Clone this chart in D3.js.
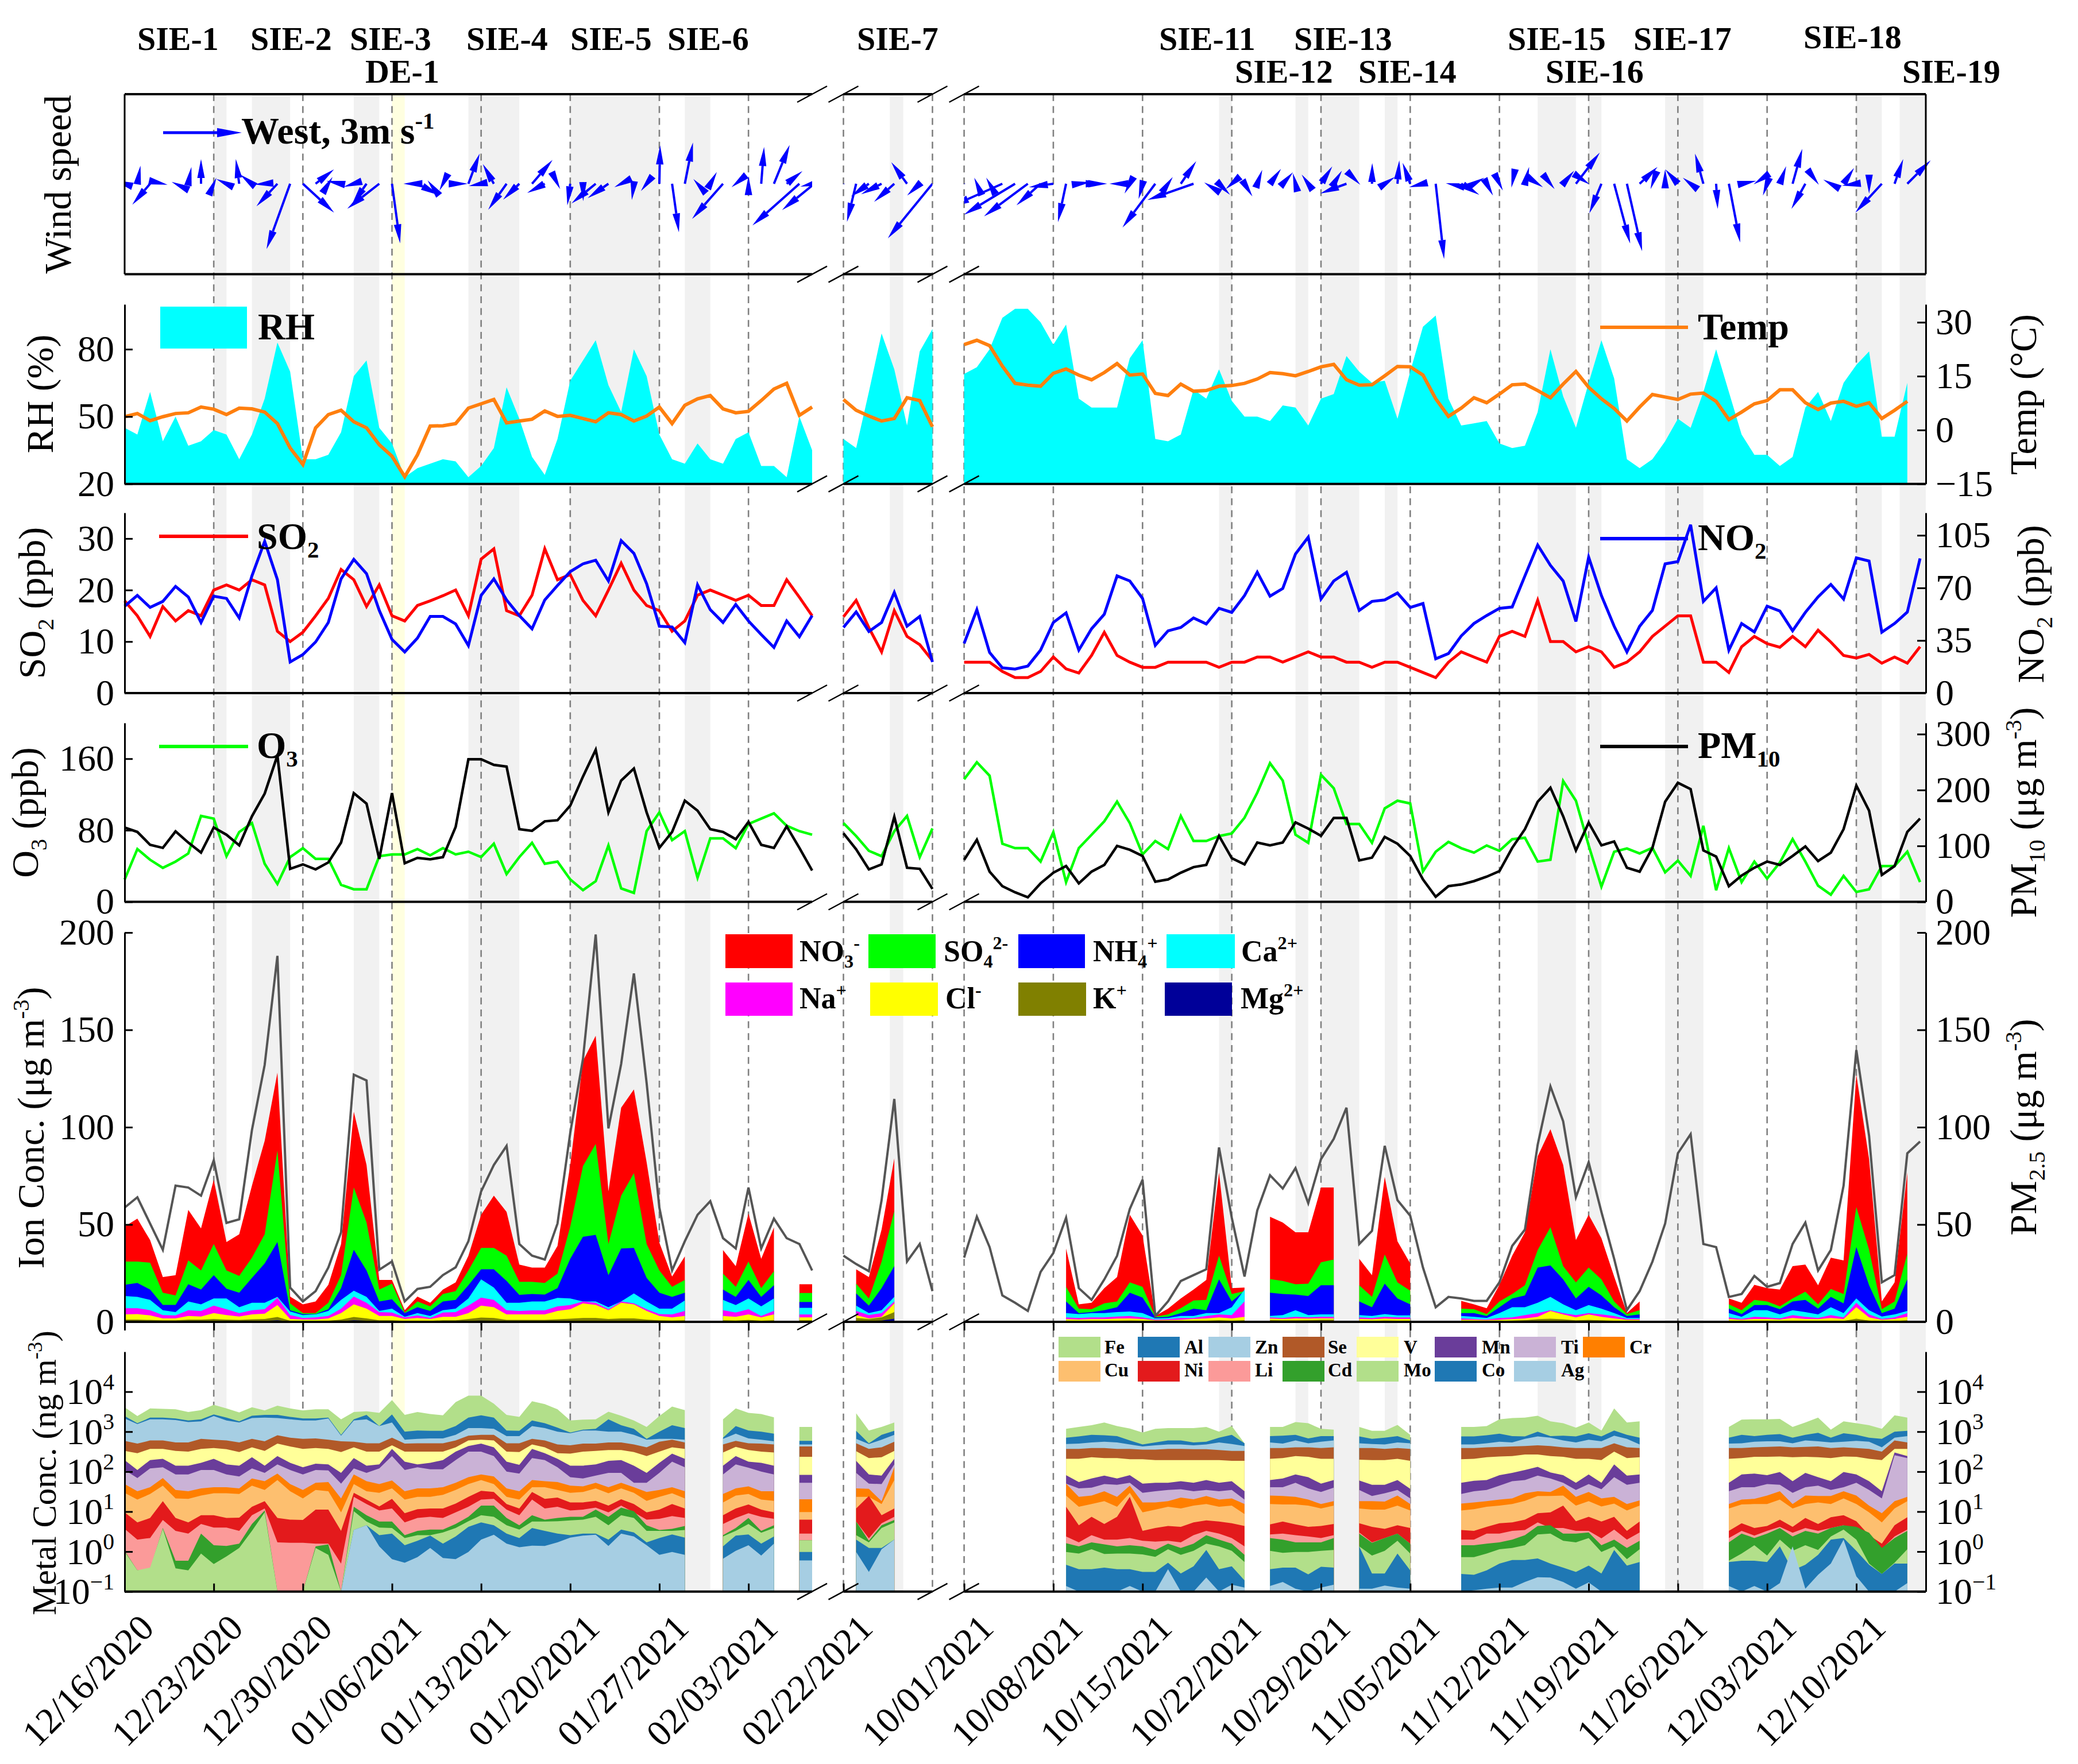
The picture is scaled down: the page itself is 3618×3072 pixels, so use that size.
<!DOCTYPE html>
<html>
<head>
<meta charset="utf-8">
<title>Wind, gases, ions and metals</title>
<script src="https://d3js.org/d3.v7.min.js"></script>
<style>
body{margin:0;background:#fff}
text{font-family:"Liberation Serif","Times New Roman",serif}
</style>
</head>
<body>
<script>
// sampled days, counted from 12/16/2020
var segDays = [[0,54],[68,75],[289,364]];
var windRuns = [[0,55],[68,75],[289,363]];
var obsRuns = [[0,44],[47,51],[53,54],[69,72],[297,311],[313,318],[320,324],[328,342],[349,363]];
var tickDays = [0,7,14,21,28,35,42,49,68,289,296,303,310,317,324,331,338,345,352,359];
var tickLabels = ["12/16/2020","12/23/2020","12/30/2020","01/06/2021","01/13/2021","01/20/2021","01/27/2021","02/03/2021","02/22/2021","10/01/2021","10/08/2021","10/15/2021","10/22/2021","10/29/2021","11/05/2021","11/12/2021","11/19/2021","11/26/2021","12/03/2021","12/10/2021"];
var dashDays = [7,14,21,28,35,42,49,68,75,289,296,303,310,317,324,331,338,345,352,359];
var greyBands = [[7,8],[10,13],[18,20],[27,31],[35,42],[44,46],[71.65,72.7],[309,310],[315,316],[317,320],[322,323],[334,337],[338,339],[344,347],[359,361],[362.4,364.45]];
var yellowBands = [[21,22]];
var sieNames = ["SIE-1","SIE-2","SIE-3","SIE-4","SIE-5","SIE-6","SIE-7","SIE-11","SIE-13","SIE-15","SIE-17","SIE-18"];
var sieLeft = [239,436,609,812,993,1162,1492,2018,2253,2625,2844,3140];
var sie2Names = ["DE-1","SIE-12","SIE-14","SIE-16","SIE-19"];
var sie2Left = [636,2150,2365,2691,3312];

// wind vector components, m/s
var windU = [-.39,.12,-.68,.18,-.15,.12,0,.1,-.39,-.13,-.45,-.39,-.8,-.9,1.19,.7,.16,-.56,-.39,-.56,-1.22,.31,-.05,.84,-.1,-.13,.46,.43,-.47,-.42,-.7,-.62,.78,-.67,.1,-.11,.01,-.92,-.79,-.26,-.08,-.22,.03,.26,.31,-.16,.25,-1.18,-.16,0,.11,.6,.6,-1.79,-.45,-1.23,
 .06,-.35,-.68,-.78,-.77,-.6,-.48,-1.7,
 .06,-.1,-.13,-1.98,-1.95,-1.67,-.92,-.93,-.31,.45,.5,.11,-.29,-.2,-.15,-1.25,.18,.59,-1.76,-.08,.42,-.23,.3,.19,.42,.39,-.1,-.25,.43,.31,-1,.04,.01,.39,.07,-.29,-.53,.32,-.1,.69,.4,.24,.13,-.03,.16,.2,.16,.42,.91,.03,-.46,.61,.58,.68,-.07,0,-.48,-.3,-.32,.06,.43,.56,-.03,-.16,.24,.37,-.53,.03,-.29,.4,-.55,0,-1.01,.33,.89];
var windV = [.13,.69,-.8,-.04,.07,.64,.94,.23,.18,.94,.35,-.03,-.86,-2.49,-1.1,.55,.26,.11,-.12,-.8,-.95,-2.27,0,-.44,.13,-.26,0,1.15,-.09,.75,-.99,-.61,.91,-.35,-.2,-.82,-.66,-.75,-.55,-.13,-.62,-.28,1.46,-1.85,1.57,.18,.45,-1.34,-.13,.29,1.4,1.48,.48,-1.59,-.11,-1,
 -.02,-1.45,-.48,-.4,-.69,.82,-.45,-2.08,
 0,.23,.23,-.88,-1.18,-1.24,-.82,-.13,-1.46,.06,0,0,0,-.37,-.58,-1.67,.26,.86,-.62,.05,-.42,-.2,-.48,.53,.57,.44,.4,.35,.66,.5,-.37,-.04,.79,.26,.89,.8,-.13,-2.87,.02,-.42,.23,-.45,-.26,-.15,.64,-.13,-.2,.5,1.19,-.02,-1.13,-2.28,-2.57,.64,-.2,.55,.55,.23,1.15,-.96,-2.24,.11,-.02,-.45,.67,1.33,-.96,-.04,.16,.6,-.07,-.38,-1.1,.94,.89];

var rhValues = [45,42,61,39,50,37,39,44,42,31,42,58,83,70,31,31,33,43,68,75,45,38,23,27,29,31,30,23,28,36,63,49,32,24,40,66,75,84,64,52,80,68,42,31,29,38,31,29,40,43,28,28,23,50,35,
 40,36,61,87,71,46,79,89,
 69,72,80,94,98,98,92,82,91,58,54,54,54,76,84,40,39,42,62,58,71,57,50,50,48,55,54,46,58,60,77,70,65,66,49,70,90,95,58,46,47,48,38,36,37,52,80,59,45,65,84,67,31,27,31,39,49,45,61,80,61,42,33,33,28,32,54,61,48,65,73,79,41,41,65,null];
var tempValues = [3.7,4.6,2.6,3.7,4.6,4.8,6.4,5.8,4.3,6.1,5.9,5,1.8,-5,-9.6,.6,4.3,5.5,2.3,.6,-4.1,-7.3,-13,-6.9,1.1,1.2,1.8,6.1,7.3,8.5,2,2.5,3,5.3,3.8,4.1,3.2,2.3,4.8,4.3,2.5,3.9,6.4,1.8,6.9,8.7,9.6,5.9,4.8,5.2,8.2,11.4,13,4.1,6.4,
 8.5,5.5,3.9,2.5,3.2,9,8.2,.9,
 23.8,25,23.5,17.8,13,12.5,12.2,15.8,17,15.3,14,16,18.5,15.3,15.6,10.2,9.6,12.8,10.8,11,12.2,12.4,13,14.2,16,15.7,15.1,16.3,17.6,18.3,14,12.5,12.6,15.1,17.7,17.6,15.3,8.7,3.8,6.1,9,7.6,10,12.6,12.8,11,9,12.8,16.3,11.9,8.7,6,2.5,6.4,9.9,9.2,8.5,10,10.3,8,2.9,5,7.3,8.2,11.2,11.2,7.6,5.7,7.5,8,6.6,7.6,3.2,5.5,8,null];
var so2Values = [17.9,15,11,16.8,14,16,15,20,21,20,22,21,12,10,11.8,15,18.4,24,22,16.8,21,15,14,17,17.9,18.9,20,15,26,28,16,15,19,28,22,23,18,15,20,25.2,20,17,16,12,14,19,20,19,18,19,17,17,22,18.6,15,
 14.8,18,12.7,8,16,11,9.4,6.3,
 6,6,6,4.2,3,3,4.2,7,4.7,3.9,7.3,11.8,7.3,6,5,5,6,6,6,6,5,6,6,7,7,6,7,8,7,7,6,6,5,6,6,5,4,3,6,8,7,6,11,12,11,18,10,10,8,9,8,5,6,8,11,13,15,15,6,6,4,9,11,9.6,8.9,11,9,12.2,9.9,7.3,6.8,7.5,5.8,7,5.8,9];
var no2Values = [57.8,65,57,61,71,64,47,64.5,63,50,78,101,75.5,20.7,25.6,34,47,76,89,79.5,55,35.7,27.4,36.6,51,51,46,31.6,65,76,62,51.6,42.8,62,71.6,80.8,86,88.4,74.6,101.5,93,72.8,44.5,44,33.6,72,55.5,47,59,48,39,30.4,48,37.5,51.6,
 43.7,54,41,47,67,44.5,51,20.7,
 33,55.5,27,16.8,16,18,28.6,47,53.4,28.6,42.8,52.5,78,74.6,63,31.8,41.4,43.7,50,46,56.4,53.7,64.9,80.4,64.5,69.6,92.6,103.8,62.6,74.6,80.4,55,61,62,66.6,57,59.6,22.8,26.3,38,46.3,51.6,56.4,57.3,78,98.5,85,74.6,47.7,90.5,64.9,44.5,27.4,44.5,55,86,87.5,112,61,70,28.6,46.3,40.7,57.8,54.6,41.5,53.7,64,72.3,62.6,90,87.9,40.5,46.3,53.9,89.6];
var o3Values = [25,59,47,38,45,54,96,93,51,78,88,42.5,20,50,60,48,48,19,14,14,51,53,53,59,52,60,53,56,50,65,31,50,66,42.5,45,25,13,23,63,15,10,79,100,69,79,27,71,71,60,87,93,99,85,79,75,
 88,73.5,57,51,79,96,50,82,
 137,156,141,65,60,60,45,78,22,60,75,90,112,88,53,68,59,96,68,68,73.5,76.5,94,122,155,135.5,75,66,142,127,87,87,66,104.5,113,110,34,56,67,60,55,63,57,70,71.6,45,47,135,113,63,17,56,59.6,54,60.4,33,46,29,85,13,60,22,45,26,44,70,45,18,8,29,11,14,40,40,56,22];
var pm10Values = [133,125,102,96.5,126,106,88,133,120,101,153,193.6,262,59,67,58,70.5,106,194.5,175.6,76.7,194.5,69,78.6,76,80,134,255,255,245,242,130,127,144,146,172,224,272,160,217,238.5,160,96.5,125,181,163,130,125,112,143,102,96.5,135,96.5,56,
 122.6,94,58,67,152,61,59,23,
 75,111,54,28,17,8,33,52,64,33,54,66,100,93,82,36,40,52,62,66,118,78,67,106,101,106,142,131,118,150,150,74,79,116,104,82,40,9,28,31,37,45,55,96.5,130,179,204,153,92,141.5,101,108,61,54,96.5,179,213,201.6,92,81,28,47,61,72,66,82,99,73,88,130,208,163,48,64,125,149];
var pm25Values = [58.7,64,50.5,37,70,69,64.8,83,50.8,52.7,98.6,132,188,17.6,10.5,15.8,27.9,46,127,124,26.8,31,10.5,16.9,18,24,28,41.4,67,80.6,90.4,40,34,32,50.5,97,135,199,99.4,132.5,179,122.7,58.7,26.4,41.4,55,62,43,37.7,69,37.7,53,43,40,26.4,
 34,29.7,26,62.5,114.5,31,40,15.8,
 33,54,38.4,13.6,9.8,5.6,25.6,35.4,53.5,17.3,11.3,21.8,33.9,58,73,3,10.5,21,24,27,89.6,53.5,23.3,57.2,75.3,68.5,79,61,83.6,94,110,40,46.7,90.4,62.5,54.5,27.9,7.5,12.8,12,10.8,10.8,20.3,39,47.4,91,121,103,64,82,56.5,32.4,6,15.8,30.9,50.5,86.6,96.4,40,38.4,12.8,14.3,23.6,18,19.9,40,51,26.4,36.9,70,139.6,95.6,20.3,24,86.6,92.6];

// ion stack: running total up to and including each ion, ug/m3
var no3Top = [49,53,42,23,24,57.5,48,73,41,45,70,93,128,13,9,10.5,19,40,108,80.6,21.5,21.5,6,13,9.8,16.6,20.3,33.9,55,64.8,56.5,29.4,27.9,27.9,39,80.6,134,147,67,110,119.4,82,40.7,23.3,33.6,
 36.9,28.6,55.7,32.4,48.5, 19.3,19.3, 27,23,47.4,84,
 37.7,9,9.8,17.3,23,55,44.4,3,6.8,12,16.6,21.5,76.8,17.3,17.6, 54,51,46,46,69,69, 32.4,24,74.5,41.4,30,
 10.8,9,7,19,34,46,85,99,80.6,42,55,43,23.3,4.5,10.5, 12,9.8,19,17.3,16.6,28.6,29.4,18.8,33,31.6,127,83.6,10.5,20.3,76.8];
var so4Top = [31,31,30.4,15,13.6,31.6,26.4,40,26.4,23.6,33,45,88,9.5,4.5,4.5,9.8,24,69,51,16.6,19.6,4.8,10.5,8,14.3,15.8,26.4,38,38,34,20.6,20.6,20,24.8,49,80,91.4,40,64.8,76.4,40,26.4,18,21.5,
 24.8,18,31,17.3,26, 14.8,14.8, 19.6,12,31,57,
 18,6.8,6.5,9.5,10.5,20.3,18,2.6,3.8,7,11,11.3,34,14.3,15.8, 22,21,19.3,19.6,30.6,32, 18.8,12.8,34.6,20.3,16,
 6.8,6.5,4,10.5,14.3,18.8,36.9,48.6,28.6,20.3,27.9,21.8,10.5,4,6, 9,6,11.3,10.5,8,12,15.5,9,16.9,14.3,59,37,6.5,10.5,35];
var nh4Top = [19,20,16.6,8.7,8.7,19.3,16.6,24,17,15,22.6,30,41,6,4,4,6.5,17.3,37,26.4,10.5,11.6,4.5,7.5,5.6,10.5,11.3,18.8,27,27,21,13.9,14.3,14,17.3,32.4,43.7,44.7,24,37.7,38,22.6,15,12.8,15,
 16.6,12.8,21.5,12.8,18.8, 10.2,10.2, 14.6,8.3,17.3,28.6,
 10.5,4.5,5,6,7.5,15,12.5,2.3,2.6,4.5,6.8,6,21.8,10.5,16, 15,14.3,14,13.3,18.8,18.8, 10.5,7.5,19.6,12,9,
 4.5,4.5,3,7.5,12,13.6,27.9,29,21.8,12,18,13.6,7.5,3,3.8, 6.8,4,8.6,8.6,6.5,10.5,11.3,6.8,12.8,9.5,38.4,18.8,4.5,6.8,21.8];
var caTop = [13.3,12.8,11.3,6,5,10.5,9,12,12,7.5,9.8,9.8,12.8,5.3,3.5,3.8,5.6,11.3,16,12.8,5.6,6.8,2.6,4.5,3,6,6.8,12,21.8,17.6,9.8,9.8,10.5,10.5,12.3,12,10.5,10.5,7.5,10.5,14.6,10.5,6.8,6.8,11,
 11.3,8.6,12,8,12, 7.2,7.2, 8.3,4.5,6,12.8,
 4.5,4,4.5,4.5,5,5.3,4.5,1.8,2,3,3,4.5,4.5,7.5,16.6, 3,3.5,6,3.5,3.8,3.8, 3.5,3,4,3.3,3.3,
 3,2.6,2,4.5,7.5,7.5,9.8,12.8,9,6,8.6,6.8,4.5,2,2, 4.5,2.6,6,6,3.8,6,5,3.8,7.5,4.5,12,6,2.7,3.8,5.6];
var naTop = [7,7,6,3.5,3.3,6,5.6,8.3,6.5,4.5,6,6.5,12.3,3.5,2,2.3,3,6.8,13,9.8,5,4.8,2.3,3.3,2,4.8,5,8.3,12.5,11.3,6,5.6,5.9,5.9,8,8.6,10.5,9.8,6.5,10.5,9.5,6.5,4,3.8,5.6,
 6,4.8,6.5,3,5.7, 3.8,3.8, 5.6,3.5,4.5,10.5,
 2.3,2,2.3,2.3,2.7,3,2.3,1.2,1.4,2,2,3,3.8,3.5,10.5, 2.3,2,2.6,2.3,2.6,2.6, 2.3,2,2.6,2.3,2.3,
 1.8,1.5,1.2,2,2.3,3.5,4.5,6,4.5,3.5,4.5,3.8,3,1.5,1.5, 2.3,1.5,2.6,2.3,1.8,3.5,2.6,2,3.5,2.3,9.8,3.8,1.5,2.3,4.5];
var clTop = [3.8,4,3.3,1.8,1.8,3,2.7,4.5,3.5,2.7,3.8,4.2,8.6,1.5,1.2,1.2,1.8,4.5,9,6.8,3,3,1.5,2,1.5,2.6,2.6,4.5,8.3,7.5,3.8,3.8,3.8,3.8,5.6,6.5,9.5,8.7,6,9.8,9,5.6,3,2.3,3,
 3,2.6,3.8,2.3,3.8, 2.3,2.3, 3.5,1.8,2.6,9.5,
 1.4,1.2,1.4,1.4,1.7,1.8,1.5,.8,.9,1,1.5,1.8,2.3,1.8,2.6, 1.7,1.5,1.8,1.7,1.8,1.8, 1.5,1.3,1.7,1.5,1.5,
 1,1,.9,1,1.4,1.8,2.6,5.6,3.8,2.3,3.8,2.6,1.8,1,1, 1.5,1,1.5,1.5,1.2,2,1.5,1.4,2,1.5,7.5,2.3,1,1.5,2.6];
var kTop = [1.2,1.2,1,.8,.8,1.2,1.2,1.5,1.2,1,1.3,1.5,2.5,.6,.5,.5,.6,1.2,2.5,1.8,.8,.8,.5,.6,.5,.8,.8,1.5,2.2,2,1,1,1,1,1.3,1.6,2,2,1.5,1.8,1.8,1.2,.8,.7,.8,
 .8,.7,1,.6,.8, .8,.8, 2,1.5,2.3,5,
 .6,.5,.5,.5,.6,.7,.6,.3,.3,.4,.5,.6,.8,.6,.8, .9,.8,.8,.9,1.1,1.1, .6,.5,.7,.6,.6,
 .4,.4,.4,.5,.7,.9,1.4,1.6,1.3,.8,1,.8,.6,.3,.3, .5,.3,.5,.5,.4,.6,.5,.4,.6,.5,1.6,.7,.3,.5,.8];
var mgTop = [.4,.4,.4,.3,.3,.4,.4,.5,.4,.3,.4,.5,.8,.2,.2,.2,.2,.4,.8,.6,.3,.3,.2,.2,.2,.3,.3,.5,.7,.6,.3,.3,.3,.3,.4,.5,.6,.6,.5,.6,.6,.4,.3,.2,.3,
 .3,.2,.3,.2,.3, .3,.3, .6,.5,.7,1.6,
 .2,.2,.2,.2,.2,.2,.2,.1,.1,.1,.2,.2,.3,.2,.3, .3,.3,.3,.3,.4,.4, .2,.2,.2,.2,.2,
 .1,.1,.1,.2,.2,.3,.5,.5,.4,.3,.3,.3,.2,.1,.1, .2,.1,.2,.2,.1,.2,.2,.1,.2,.2,.5,.2,.1,.2,.3];

// metal stack: log10 of the running total (ng/m3) up to and including each metal
var feTop = [3.61,3.39,3.58,3.57,3.56,3.49,3.54,3.67,3.58,3.48,3.61,3.53,3.65,3.58,3.53,3.56,3.56,3.31,3.49,3.51,3.47,3.79,3.42,3.49,3.44,3.41,3.74,3.9,3.9,3.7,3.42,3.37,3.76,3.69,3.56,3.28,3.3,3.31,3.5,3.4,3.28,3.12,3.39,3.63,3.54,
 3.31,3.58,3.47,3.44,3.36, 3.12,3.12, 3.46,3.03,3.12,3.23,
 3.07,3.12,3.16,3.23,3.14,3.08,2.98,3.07,3.09,3.09,3.09,3.12,3.0,3.14,2.71, 3.12,3.12,3.24,3.21,3.07,3.05, 3.12,3.02,3.02,3.17,2.92,
 3.12,3.12,3.14,3.31,3.34,3.35,3.4,3.26,3.21,3.1,3.23,3.03,3.58,3.23,3.26, 3.12,3.3,3.31,3.31,3.32,3.12,3.23,3.35,3.05,3.26,3.21,3.16,3.07,3.41,3.35];
var alTop = [3.39,3.21,3.35,3.35,3.33,3.28,3.31,3.43,3.35,3.26,3.40,3.42,3.42,3.37,3.33,3.33,3.35,2.92,3.31,3.42,3.14,3.43,3.0,3.03,3.02,3.02,3.14,3.35,3.41,3.35,3.03,3.02,3.28,3.21,3.10,2.98,3.05,3.07,3.31,3.16,3.07,2.82,3.0,3.16,3.09,
 2.85,3.14,3.03,3.0,2.95, 2.77,2.77, 3.02,2.71,2.92,3.02,
 2.85,2.88,2.92,2.91,2.89,2.78,2.68,2.73,2.78,2.78,2.73,2.75,2.85,2.92,2.71, 2.89,2.9,2.92,2.83,2.89,2.89, 2.88,2.82,2.85,2.89,2.78,
 2.88,2.88,2.91,2.95,2.89,2.88,3.0,2.89,2.9,2.88,2.96,2.88,3.03,2.92,2.85, 2.85,2.92,2.89,2.92,2.94,2.85,2.92,2.97,2.85,2.96,2.92,2.85,2.82,3.0,3.02];
var znTop = [3.33,3.19,3.31,3.31,3.29,3.24,3.26,3.39,3.28,3.23,3.34,3.35,3.34,3.31,3.28,3.28,3.33,2.9,3.28,3.31,3.14,3.23,2.8,2.82,2.83,2.83,2.92,3.09,3.09,3.07,2.89,2.89,3.14,3.09,3.0,2.96,3.03,3.03,3.0,3.0,2.92,2.8,2.82,2.82,2.8,
 2.82,2.95,2.83,2.8,2.76, 2.68,2.68, 2.82,2.69,2.8,2.92,
 2.69,2.7,2.73,2.75,2.73,2.68,2.63,2.66,2.68,2.68,2.66,2.68,2.73,2.69,2.64, 2.73,2.7,2.78,2.71,2.75,2.78, 2.71,2.69,2.68,2.73,2.71,
 2.68,2.68,2.71,2.75,2.73,2.82,2.88,2.85,2.78,2.73,2.8,2.76,2.9,2.82,2.68, 2.7,2.71,2.75,2.76,2.76,2.71,2.78,2.76,2.73,2.75,2.77,2.75,2.61,2.85,2.89];
var seTop = [2.77,2.7,2.78,2.78,2.73,2.73,2.82,2.8,2.78,2.73,2.82,2.76,2.91,2.85,2.82,2.83,2.8,2.76,2.75,2.71,2.71,2.85,2.7,2.71,2.71,2.71,2.78,2.9,2.92,2.92,2.71,2.71,2.82,2.78,2.68,2.66,2.7,2.7,2.73,2.73,2.68,2.61,2.75,2.8,2.73,
 2.68,2.77,2.71,2.7,2.68, 2.63,2.63, 2.71,2.57,2.61,2.75,
 2.57,2.57,2.59,2.59,2.57,2.57,2.55,2.55,2.57,2.57,2.56,2.56,2.54,2.52,2.52, 2.59,2.59,2.61,2.61,2.59,2.61, 2.59,2.59,2.57,2.59,2.57,
 2.59,2.59,2.61,2.62,2.63,2.64,2.66,2.64,2.61,2.59,2.59,2.59,2.71,2.61,2.59, 2.59,2.59,2.61,2.62,2.63,2.61,2.62,2.63,2.59,2.61,2.59,2.57,2.5,2.78,2.73];
var vTop = [2.52,2.46,2.57,2.57,2.52,2.5,2.57,2.59,2.56,2.49,2.61,2.52,2.7,2.63,2.57,2.59,2.57,2.49,2.61,2.5,2.5,2.66,2.5,2.5,2.5,2.5,2.61,2.78,2.8,2.78,2.5,2.49,2.68,2.61,2.46,2.45,2.5,2.52,2.54,2.54,2.49,2.39,2.5,2.61,2.57,
 2.48,2.62,2.54,2.5,2.48, 2.37,2.37, 2.51,2.34,2.36,2.52,
 2.32,2.32,2.36,2.34,2.34,2.31,2.31,2.29,2.29,2.29,2.29,2.29,2.29,2.27,2.27, 2.32,2.34,2.39,2.37,2.32,2.32, 2.3,2.29,2.29,2.32,2.27,
 2.31,2.32,2.36,2.38,2.39,2.43,2.43,2.39,2.37,2.32,2.32,2.29,2.5,2.34,2.36, 2.32,2.34,2.37,2.37,2.38,2.36,2.37,2.36,2.34,2.38,2.37,2.32,2.29,2.57,2.57];
var mnTop = [2.29,2.04,2.29,2.32,2.15,2.15,2.22,2.32,2.18,2.15,2.36,2.15,2.39,2.22,2.11,2.2,2.18,1.97,2.34,2.15,2.18,2.57,2.25,2.18,2.22,2.29,2.5,2.64,2.7,2.61,2.25,2.17,2.57,2.46,2.32,2.15,2.15,2.18,2.27,2.29,2.15,1.97,2.22,2.45,2.32,
 2.15,2.39,2.25,2.22,2.15, 1.92,1.92, 2.27,1.93,1.9,2.32,
 1.91,1.74,1.83,1.9,1.83,1.91,1.7,1.72,1.72,1.76,1.72,1.79,1.72,1.76,1.51, 1.79,1.83,1.93,1.86,1.7,1.79, 1.78,1.67,1.67,1.79,1.57,
 1.72,1.77,1.79,1.91,1.97,2.04,2.12,1.98,1.91,1.72,1.93,1.72,2.18,1.9,1.93, 1.72,1.93,1.95,1.91,1.99,1.76,1.97,1.86,1.76,1.99,1.93,1.76,1.51,2.48,2.39];
var tiTop = [2.04,1.84,2.08,2.11,1.93,1.93,2.04,2.04,1.93,1.88,2.08,1.97,2.18,2.04,1.93,2.04,2.03,1.7,2.08,1.97,2.08,2.39,2.04,2.11,2.06,2.06,2.29,2.5,2.5,2.39,2.0,1.95,2.34,2.29,2.11,1.86,1.83,1.9,1.97,1.97,1.72,1.72,1.97,2.25,2.11,
 1.93,2.18,2.1,2.0,1.93, 1.72,1.72, 1.97,1.7,1.69,2.18,
 1.7,1.58,1.6,1.69,1.67,1.72,1.47,1.51,1.54,1.56,1.51,1.54,1.51,1.54,1.3, 1.61,1.61,1.72,1.58,1.49,1.6, 1.54,1.39,1.46,1.54,1.33,
 1.44,1.51,1.54,1.65,1.76,1.79,1.9,1.83,1.72,1.54,1.69,1.56,1.86,1.67,1.72, 1.51,1.61,1.61,1.69,1.67,1.47,1.61,1.65,1.54,1.61,1.72,1.54,1.33,2.41,2.34];
var crTop = [1.69,1.51,1.61,1.84,1.54,1.51,1.58,1.61,1.61,1.58,1.83,1.76,1.95,1.69,1.54,1.72,1.74,1.33,1.93,1.76,1.69,1.78,1.51,1.58,1.58,1.61,1.72,1.86,1.93,1.88,1.58,1.51,1.79,1.76,1.74,1.65,1.63,1.72,1.61,1.72,1.61,1.49,1.54,1.61,1.51,
 1.44,1.58,1.63,1.51,1.51, 1.31,1.31, 1.58,1.57,1.26,2.11,
 1.7,1.37,1.4,1.51,1.37,1.65,1.23,1.23,1.26,1.35,1.31,1.39,1.3,1.33,1.19, 1.4,1.39,1.37,1.3,1.19,1.26, 1.26,1.26,1.25,1.4,1.19,
 1.2,1.23,1.26,1.3,1.33,1.46,1.51,1.49,1.65,1.37,1.49,1.33,1.37,1.19,1.28, 1.19,1.3,1.32,1.4,1.51,1.19,1.4,1.39,1.39,1.51,1.4,1.15,.96,1.26,1.37];
var cuTop = [1.47,1.3,1.44,1.65,1.33,1.32,1.4,1.46,1.46,1.44,1.65,1.54,1.79,1.51,1.33,1.54,1.51,.98,1.69,1.51,1.47,1.58,1.3,1.37,1.37,1.42,1.54,1.69,1.79,1.69,1.37,1.3,1.61,1.61,1.54,1.47,1.49,1.58,1.46,1.58,1.47,1.27,1.37,1.46,1.33,
 1.23,1.4,1.44,1.3,1.27, .99,.99, 1.37,1.37,1.19,1.79,
 1.4,1.12,1.19,1.26,1.12,1.47,.98,1.05,1.12,1.08,1.15,1.19,1.12,1.15,.94, 1.19,1.18,1.18,1.15,1.08,1.15, 1.08,1.05,1.05,1.15,1.03,
 1.03,1.06,1.12,1.15,1.19,1.27,1.39,1.39,1.4,1.15,1.26,1.13,1.2,1.03,1.15, 1.08,1.18,1.19,1.19,1.3,1.08,1.19,1.23,1.19,1.33,1.19,.98,.73,1.08,1.26];
var niTop = [.98,.73,.84,1.26,.84,.73,.91,.91,.84,.85,1.12,1.26,.84,.8,.79,1.05,1.05,.52,1.47,1.3,1.13,1.32,.96,1.06,1.08,1.08,1.2,1.37,1.52,1.49,1.19,1.08,1.49,1.32,1.35,1.23,1.23,1.27,1.15,1.31,1.19,.98,1.05,1.19,1.08,
 .91,1.08,1.18,1.05,.98, .8,.8, 1.08,1.39,.91,1.08,
 1.12,.66,.87,.69,.87,1.37,.52,.59,.64,.62,.73,.78,.75,.71,.64, .68,.75,.68,.62,.64,.69, .71,.62,.57,.66,.59,
 .54,.52,.62,.71,.73,.8,.96,.98,1.15,.76,.87,.75,.87,.52,.75, .52,.71,.59,.64,.8,.62,.84,.69,.86,.91,.76,.41,.2,.66,.86];
var liTop = [.57,.3,.34,.79,.52,.45,.69,.6,.6,.52,.91,1.08,.23,.22,.22,.2,.2,-.3,1.37,1.19,1.03,1.08,.73,.84,.87,.84,.98,1.12,1.3,1.32,1.05,.91,1.3,1.08,1.12,1.03,1.05,1.1,.98,1.15,.98,.8,.82,.89,.84,
 .69,.84,.96,.87,.82, .45,.45, .75,.33,.71,.87,
 .38,.23,.41,.3,.3,.34,.27,.25,.27,.23,.41,.52,.45,.34,.13, .43,.45,.41,.38,.34,.41, .48,.23,.34,.45,.2,
 .3,.3,.45,.45,.52,.54,.73,.59,.59,.52,.52,.33,.55,.3,.48, .34,.52,.4,.52,.62,.47,.59,.52,.59,.66,.41,.2,.07,.38,.55];
var cdTop = [.02,-.47,-.44,.59,-.23,-.23,.45,.16,.14,.2,.69,1.03,-1,-1,-1,.13,.18,-1,1.12,.91,.75,.75,.41,.52,.55,.55,.69,.87,1.15,1.15,.84,.66,.91,.8,.84,.87,.87,1.05,.87,1.1,1.01,.66,.54,.57,.64,
 .41,.59,.84,.52,.66, .28,.28, .75,.27,.66,.79,
 .21,.13,.23,.18,.13,.16,.13,.04,.2,.09,.2,.41,.3,.2,-.08, .34,.3,.23,.23,.23,.34, .45,.22,.34,.45,.2,
 .16,.16,.2,.23,.3,.41,.64,.66,.45,.45,.48,.16,.3,.09,.27, .23,.45,.34,.45,.59,.38,.52,.45,.59,.66,.62,.47,.09,.34,.52];
var moTop = [0,-.47,-.4,.57,-.42,-.47,-.05,-.31,-.12,.09,.52,.98,-1,-1,-1,.09,-.08,-1,1.01,.75,.6,.59,.34,.41,.41,.48,.59,.76,.91,.87,.66,.55,.75,.75,.76,.78,.8,.87,.66,.91,.84,.52,.52,.52,.54,
 .38,.52,.69,.47,.59, .28,.28, .41,.23,.59,.73,
 -.01,-.05,.06,-.06,-.05,-.05,-.07,-.13,.06,-.08,.02,.2,.13,.02,-.26, .02,-.03,-.01,-.01,.02,.04, .13,-.1,.02,.27,-.05,
 -.14,-.14,-.05,.06,.09,.16,.43,.45,.27,.23,.34,-.01,.13,-.19,.06, -.23,-.05,.16,-.1,.3,.02,.16,.04,.38,.55,.3,-.3,-.56,-.28,.06];
var coTop = [-1,-1,-1,-1,-1,-1,-1,-1,-1,-1,-1,-1,-1,-1,-1,-1,-1,-1,.54,.66,.41,.45,.16,.27,.4,.2,.38,.62,.73,.66,.45,.34,.59,.52,.45,.41,.45,.45,.3,.55,.48,.23,.34,.43,.35,
 .13,.4,.43,.2,.38, -.01,-.01, .3,.09,.09,.3,
 -.33,-.44,-.44,-.4,-.44,-.44,-.51,-.51,-.28,-.55,-.37,.04,-.44,-.37,-.72, -.44,-.4,-.4,-.57,-.38,-.4, .13,-.55,-.55,-.05,-.47,
 -.56,-.58,-.47,-.3,-.21,-.21,-.17,-.3,-.4,-.51,-.35,-.55,.04,-.35,-.26, -.26,-.23,-.23,-.26,.13,-.47,-.33,-.08,.3,.34,.02,-.33,-.56,-.3,-.3];
var agTop = [-1,-1,-1,-1,-1,-1,-1,-1,-1,-1,-1,-1,-1,-1,-1,-1,-1,-1,.54,.66,.13,-.19,-.28,-.14,.09,-.16,-.19,-.01,.3,.42,.2,.11,.15,.14,.23,.35,.4,.42,.14,.45,.38,.16,-.08,-.01,-.08,
 -.18,.02,.16,-.1,.2, -.22,-.22, -.01,-.51,.06,.3,
 -.86,-1,-1,-1,-1,-.86,-1,-1,-.44,-1,-1,-.65,-1,-.83,-.9, -.86,-.76,-.93,-1,-.9,-.83, -.93,-.93,-.85,-.9,-.93,
 -1,-.97,-.93,-.9,-.9,-.76,-.64,-.65,-.76,-.93,-.77,-1,-1,-1,-1, -.86,-1,-.86,-1,-.79,.13,-.93,-.58,-.3,.3,-.62,-1,-1,-1,-.79];

var ionLayers = [
  {name:[["NO"],["3","sub"],["-","sup"]], top:no3Top, color:"#ff0000"},
  {name:[["SO"],["4","sub"],["2-","sup"]], top:so4Top, color:"#00ff00"},
  {name:[["NH"],["4","sub"],["+","sup"]], top:nh4Top, color:"#0000ff"},
  {name:[["Ca"],["2+","sup"]], top:caTop, color:"#00ffff"},
  {name:[["Na"],["+","sup"]], top:naTop, color:"#ff00ff"},
  {name:[["Cl"],["-","sup"]], top:clTop, color:"#ffff00"},
  {name:[["K"],["+","sup"]], top:kTop, color:"#808000"},
  {name:[["Mg"],["2+","sup"]], top:mgTop, color:"#000099"}
];
var metalLayers = [
  {name:"Fe", top:feTop, color:"#b2df8a"},{name:"Al", top:alTop, color:"#1f78b4"},
  {name:"Zn", top:znTop, color:"#a6cee3"},{name:"Se", top:seTop, color:"#b15928"},
  {name:"V", top:vTop, color:"#ffff99"},{name:"Mn", top:mnTop, color:"#6a3d9a"},
  {name:"Ti", top:tiTop, color:"#cab2d6"},{name:"Cr", top:crTop, color:"#ff7f00"},
  {name:"Cu", top:cuTop, color:"#fdbf6f"},{name:"Ni", top:niTop, color:"#e31a1c"},
  {name:"Li", top:liTop, color:"#fb9a99"},{name:"Cd", top:cdTop, color:"#33a02c"},
  {name:"Mo", top:moTop, color:"#b2df8a"},{name:"Co", top:coTop, color:"#1f78b4"},
  {name:"Ag", top:agTop, color:"#a6cee3"}
];

var width = 3618, height = 3072;
var svg = d3.select("body").append("svg").attr("width",width).attr("height",height).style("display","block");

function daysOf(runs){
  var out = [];
  runs.forEach(function(s){ out = out.concat(d3.range(s[0],s[1]+1)); });
  return out;
}
var lineDays = daysOf(segDays);
var windDays = daysOf(windRuns);
var obsDays = daysOf(obsRuns);

// the axis is cut twice, so the scale has several linear pieces
var x = d3.scaleLinear().domain([0,54,68,75,289,364.45]).range([217,1414,1468.5,1623.5,1678.6,3353]);
var segEnds = [[0,54],[68,75],[289,364.45]];

var yRH = d3.scaleLinear().domain([20,100]).range([842.7,530]);
var yTemp = d3.scaleLinear().domain([-15,35]).range([842.7,530]);
var ySO2 = d3.scaleLinear().domain([0,35]).range([1207,893]);
var yNO2 = d3.scaleLinear().domain([0,120]).range([1207,893]);
var yO3 = d3.scaleLinear().domain([0,200]).range([1570.5,1259]);
var yPM10 = d3.scaleLinear().domain([0,320]).range([1570.5,1259]);
var yIon = d3.scaleLinear().domain([0,200]).range([2302,1624]);
var yMetal = d3.scaleLog().domain([0.1,1e5]).range([2771.7,2354]);
var windLen = d3.scaleLinear().domain([0,3]).range([0,137]);
var windBase = 320;

// text with sub and superscripts, parts are [string, "sub"|"sup"]
function rich(sel, parts, size, startDy){
  var prev = 0;
  parts.forEach(function(p,i){
    var off = p[1]=="sub" ? size*0.22 : p[1]=="sup" ? -size*0.4 : 0;
    var dy = off-prev+(i==0 && startDy ? startDy : 0);
    sel.append("tspan").attr("dy",dy).attr("font-size",p[1] ? size*0.62 : size).text(p[0]);
    prev = off;
  });
}
function label(xp,yp,parts,size,bold){
  var t = svg.append("text").attr("x",xp).attr("y",yp).attr("font-weight",bold?"bold":"normal");
  rich(t,parts,size);
  return t;
}
function vLabel(xp,yp,parts,size){
  var t = svg.append("text").attr("text-anchor","middle").attr("transform","translate("+xp+","+yp+") rotate(-90)");
  rich(t,parts,size||66);
}

// shaded days and dashed week lines go under everything
var topY = 164, botY = 2771.7;
svg.append("g").selectAll("rect").data(greyBands).enter().append("rect")
  .attr("x",function(d){return x(d[0]);}).attr("width",function(d){return x(d[1])-x(d[0]);})
  .attr("y",topY).attr("height",botY-topY).attr("fill","#f1f1f1");
svg.append("g").selectAll("rect").data(yellowBands).enter().append("rect")
  .attr("x",function(d){return x(d[0]);}).attr("width",function(d){return x(d[1])-x(d[0]);})
  .attr("y",topY).attr("height",botY-topY).attr("fill","#ffffe0");
svg.append("g").selectAll("line").data(dashDays).enter().append("line")
  .attr("x1",function(d){return x(d);}).attr("x2",function(d){return x(d);})
  .attr("y1",topY).attr("y2",botY).attr("stroke","#808080").attr("stroke-width",2.6).attr("stroke-dasharray","12,8.7");

// wind arrows: the head has a fixed size and sits behind the tip, also on short arrows
var clip = svg.append("clipPath").attr("id","windClip");
segEnds.forEach(function(s,i){
  clip.append("rect").attr("x",x(s[0])).attr("width",x(s[1])-x(s[0])+(i==2?12:0)).attr("y",topY).attr("height",320);
});
var windG = svg.append("g").attr("fill","#0000ff").attr("stroke","#0000ff");
var dayArrows = windG.append("g").attr("clip-path","url(#windClip)");
function arrow(g,x0,y0,dx,dy,sw,hl,hw){
  var len = Math.sqrt(dx*dx+dy*dy);
  if(len<0.5) return;
  var ux = dx/len, uy = dy/len;
  var bx = x0+dx-ux*hl, by = y0+dy-uy*hl;
  if(len>hl) g.append("line").attr("x1",x0).attr("y1",y0).attr("x2",bx).attr("y2",by).attr("stroke-width",sw);
  g.append("path").attr("stroke","none")
    .attr("d","M"+(x0+dx)+","+(y0+dy)+"L"+(bx-uy*hw)+","+(by+ux*hw)+"L"+(bx+uy*hw)+","+(by-ux*hw)+"Z");
}
windDays.forEach(function(d,i){
  arrow(dayArrows,x(d),windBase,windLen(windU[i]),-windLen(windV[i]),4,33,6.5);
});
arrow(windG,284,231,windLen(3),0,5,43,8);
label(420,250,[["West, 3m s"],["-1","sup"]],66,true);

// daily series
function pts(vals){
  return lineDays.map(function(d,i){return {day:d,v:vals[i]};}).filter(function(p){return p.v!=null;});
}
function drawLine(vals,scale,color,sw){
  var gen = d3.line().x(function(p){return x(p.day);}).y(function(p){return scale(p.v);});
  segDays.forEach(function(s){
    svg.append("path").datum(pts(vals).filter(function(p){return p.day>=s[0]&&p.day<=s[1];}))
      .attr("d",gen).attr("fill","none").attr("stroke",color).attr("stroke-width",sw).attr("stroke-linejoin","miter");
  });
}
var rhArea = d3.area().x(function(p){return x(p.day);}).y0(yRH(20)).y1(function(p){return yRH(p.v);});
segDays.forEach(function(s){
  svg.append("path").datum(pts(rhValues).filter(function(p){return p.day>=s[0]&&p.day<=s[1];}))
    .attr("d",rhArea).attr("fill","#00ffff");
});
drawLine(tempValues,yTemp,"#ff7f0e",6);
drawLine(so2Values,ySO2,"#ff0000",5);
drawLine(no2Values,yNO2,"#0000ff",5);
drawLine(o3Values,yO3,"#00ff00",4.5);
drawLine(pm10Values,yPM10,"#000000",4.5);

// stacks, painted from the top layer down
function drawStack(layers,scale,base,conv){
  layers.forEach(function(layer){
    var data = obsDays.map(function(d,i){return {day:d,v:conv(layer.top[i])};});
    var gen = d3.area().x(function(p){return x(p.day);}).y0(scale(base)).y1(function(p){return scale(p.v);});
    obsRuns.forEach(function(r){
      svg.append("path").datum(data.filter(function(p){return p.day>=r[0]&&p.day<=r[1];}))
        .attr("d",gen).attr("fill",layer.color);
    });
  });
}
drawStack(metalLayers,yMetal,0.1,function(e){return Math.pow(10,e);});
drawStack(ionLayers,yIon,0,function(v){return v;});
drawLine(pm25Values,yIon,"#555555",4);

// y axes
function styleAxis(g,size){
  g.attr("font-family",'"Liberation Serif",serif').attr("font-size",size||64).attr("fill","#000");
  g.selectAll("path,line").attr("stroke","#000").attr("stroke-width",3);
  return g;
}
function leftAxis(scale,ticks){
  return styleAxis(svg.append("g").attr("transform","translate(217,0)")
    .call(d3.axisLeft(scale).tickValues(ticks).tickSize(-14).tickSizeOuter(0).tickPadding(18)));
}
function rightAxis(scale,ticks){
  return styleAxis(svg.append("g").attr("transform","translate(3353,0)")
    .call(d3.axisRight(scale).tickValues(ticks).tickSize(-15).tickSizeOuter(0).tickPadding(17)));
}
leftAxis(yRH,[20,50,80]);
rightAxis(yTemp,[-15,0,15,30]);
leftAxis(ySO2,[0,10,20,30]);
rightAxis(yNO2,[0,35,70,105]);
leftAxis(yO3,[0,80,160]);
rightAxis(yPM10,[0,100,200,300]);
leftAxis(yIon,[0,50,100,150,200]);
rightAxis(yIon,[0,50,100,150,200]);
var metalTicks = [0.1,1,10,100,1000,10000];
var metalExp = ["\u22121","0","1","2","3","4"];
[leftAxis(yMetal,metalTicks),rightAxis(yMetal,metalTicks)].forEach(function(g){
  g.selectAll("text").each(function(d,i){
    var t = d3.select(this).text("").attr("dy",null);
    rich(t,[["10"],[metalExp[i],"sup"]],64,21);
  });
});

// bottom axes with the break marks
function hLine(yp){
  segEnds.forEach(function(s){
    svg.append("line").attr("x1",x(s[0])).attr("x2",x(s[1])).attr("y1",yp).attr("y2",yp)
      .attr("stroke","#000").attr("stroke-width",4);
  });
  [x(54),x(68),x(75),x(289)].forEach(function(c){
    svg.append("line").attr("x1",c-26).attr("x2",c+26).attr("y1",yp+14).attr("y2",yp-14)
      .attr("stroke","#000").attr("stroke-width",2.5);
  });
}
[164,477.6,842.7,1207,1570.5,2302,2771.7].forEach(hLine);
svg.append("line").attr("x1",217).attr("x2",217).attr("y1",164).attr("y2",477.6).attr("stroke","#000").attr("stroke-width",3);
svg.append("line").attr("x1",3353).attr("x2",3353).attr("y1",164).attr("y2",477.6).attr("stroke","#000").attr("stroke-width",3);

var ionAxis = svg.append("g").attr("transform","translate(0,2302)")
  .call(d3.axisBottom(x).tickValues(tickDays).tickSize(15).tickSizeOuter(0).tickFormat(""));
ionAxis.select(".domain").remove();
styleAxis(ionAxis);
var metalAxis = svg.append("g").attr("transform","translate(0,2771.7)")
  .call(d3.axisBottom(x).tickValues(tickDays).tickSize(-14).tickSizeOuter(0)
    .tickFormat(function(d,i){return tickLabels[i];}));
metalAxis.select(".domain").remove();
styleAxis(metalAxis);
metalAxis.selectAll("text").attr("y",0).attr("dy",0).attr("text-anchor","end")
  .attr("transform","translate(54,67) rotate(-45)");

// event names
sieNames.forEach(function(n,i){
  label(sieLeft[i],n=="SIE-18"?84:87,[[n]],58,true);
});
sie2Names.forEach(function(n,i){
  label(sie2Left[i],143.5,[[n]],58,true);
});

// y titles
vLabel(123,321,[["Wind speed"]]);
vLabel(92,686,[["RH (%)"]]);
vLabel(78,1050,[["SO"],["2","sub"],[" (ppb)"]]);
vLabel(66,1415,[["O"],["3","sub"],[" (ppb)"]]);
vLabel(76,1964,[["Ion Conc. (\u03bcg m"],["-3","sup"],[")"]]);
vLabel(97,2565,[["Metal Conc. (ng m"],["-3","sup"],[")"]],59);
vLabel(3545,687,[["Temp (\u00b0C)"]]);
vLabel(3558,1052,[["NO"],["2","sub"],[" (ppb)"]]);
vLabel(3545,1415,[["PM"],["10","sub"],[" (\u03bcg m"],["-3","sup"],[")"]]);
vLabel(3545,1963,[["PM"],["2.5","sub"],[" (\u03bcg m"],["-3","sup"],[")"]]);

// panel legends
svg.append("rect").attr("x",279).attr("y",534).attr("width",151).attr("height",73).attr("fill","#00ffff");
label(449,591,[["RH"]],66,true);
function lineKey(x0,x1,yp,color){
  svg.append("line").attr("x1",x0).attr("x2",x1).attr("y1",yp).attr("y2",yp).attr("stroke",color).attr("stroke-width",6);
}
lineKey(2786,2939,570,"#ff7f0e");
label(2956,591,[["Temp"]],66,true);
lineKey(277,432,934,"#ff0000");
label(447,956,[["SO"],["2","sub"]],66,true);
lineKey(2786,2939,938,"#0000ff");
label(2956,958,[["NO"],["2","sub"]],66,true);
lineKey(277,432,1300,"#00ff00");
label(447,1320,[["O"],["3","sub"]],66,true);
lineKey(2786,2939,1300,"#000000");
label(2956,1320,[["PM"],["10","sub"]],66,true);

var ionKeyX = [[1263,117,1392],[1512,117,1643],[1773,116,1903],[2031,119,2161],[1263,117,1392],[1515,118,1646],[1773,118,1903],[2028,117,2160]];
ionLayers.forEach(function(layer,i){
  var row = i<4 ? 0 : 1;
  svg.append("rect").attr("x",ionKeyX[i][0]).attr("width",ionKeyX[i][1])
    .attr("y",row?1711:1627).attr("height",row?58:59).attr("fill",layer.color);
  label(ionKeyX[i][2],row?1756:1674,layer.name,52,true);
});

var metalKeyX = [[1843,1923],[1981,2062],[2104,2185],[2233,2312],[2362,2444],[2498,2580],[2636,2718],[2756,2837],
  [1843,1923],[1981,2062],[2104,2185],[2233,2312],[2362,2444],[2498,2580],[2636,2718]];
metalLayers.forEach(function(layer,i){
  var row = i<8 ? 0 : 1;
  svg.append("rect").attr("x",metalKeyX[i][0]).attr("width",73)
    .attr("y",row?2370:2328).attr("height",36).attr("fill",layer.color);
  label(metalKeyX[i][1],row?2397:2357,[[layer.name]],33,true);
});

// catch a slip in the hand-read arrays
[rhValues,tempValues,so2Values,no2Values,o3Values,pm10Values,pm25Values].forEach(function(a,i){
  if(a.length!=lineDays.length) throw new Error("daily array "+i+" has "+a.length);
});
[windU,windV].forEach(function(a,i){
  if(a.length!=windDays.length) throw new Error("wind array "+i+" has "+a.length);
});
ionLayers.concat(metalLayers).forEach(function(l,i){
  if(l.top.length!=obsDays.length) throw new Error("stack layer "+i+" has "+l.top.length);
});
</script>
</body>
</html>
